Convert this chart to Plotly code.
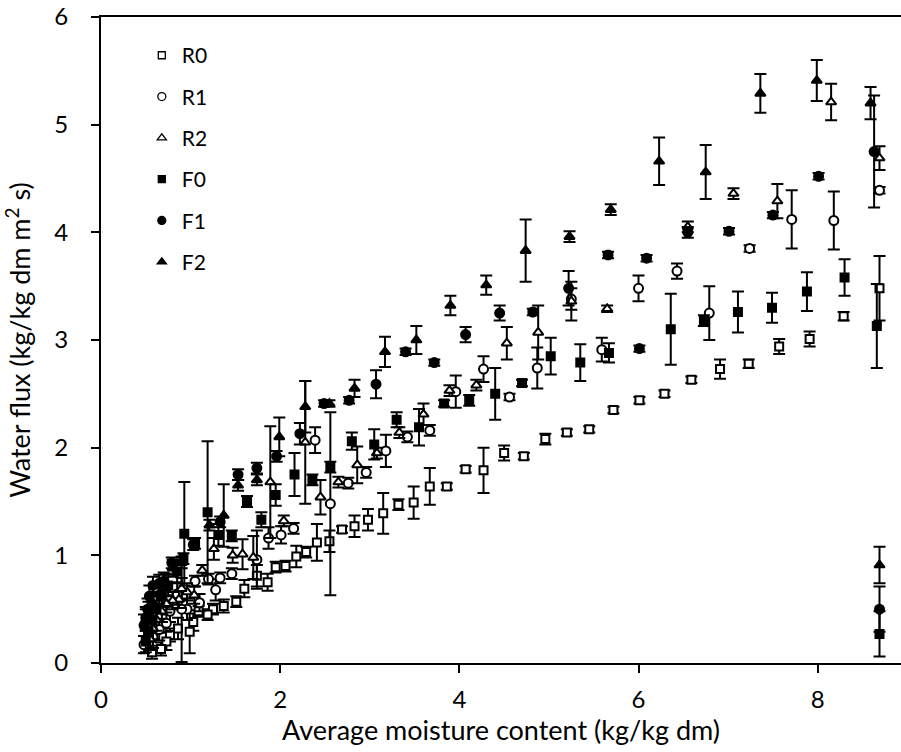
import plotly.graph_objects as go

# ---- data ----
R0_x = [8.69, 8.29, 7.91, 7.57, 7.23, 6.91, 6.59, 6.29, 6.01, 5.72, 5.45, 5.20, 4.96, 4.72, 4.50, 4.27, 4.07, 3.86, 3.67, 3.49, 3.32, 3.15, 2.98, 2.83, 2.69, 2.55, 2.41, 2.29, 2.18, 2.06, 1.95, 1.86, 1.74, 1.60, 1.51, 1.37, 1.25, 1.19, 1.09, 1.03, 0.99, 0.86, 0.77, 0.73, 0.67, 0.57]
R0_y = [3.48, 3.22, 3.01, 2.94, 2.78, 2.73, 2.63, 2.50, 2.44, 2.35, 2.17, 2.14, 2.08, 1.92, 1.95, 1.79, 1.80, 1.64, 1.64, 1.49, 1.47, 1.39, 1.33, 1.27, 1.24, 1.13, 1.12, 1.03, 0.99, 0.90, 0.89, 0.75, 0.81, 0.69, 0.57, 0.53, 0.50, 0.45, 0.48, 0.38, 0.29, 0.32, 0.26, 0.20, 0.13, 0.10]
R0_e = [0.30, 0.04, 0.07, 0.07, 0.04, 0.09, 0.03, 0.03, 0.03, 0.03, 0.03, 0.03, 0.05, 0.03, 0.07, 0.21, 0.03, 0.03, 0.17, 0.15, 0.05, 0.19, 0.10, 0.10, 0.03, 0.10, 0.17, 0.05, 0.10, 0.05, 0.05, 0.08, 0.10, 0.08, 0.05, 0.06, 0.05, 0.05, 0.05, 0.08, 0.20, 0.10, 0.06, 0.08, 0.06, 0.06]

R1_x = [8.69, 8.18, 7.71, 7.24, 6.79, 6.43, 6.00, 5.59, 5.25, 4.87, 4.56, 4.27, 3.96, 3.67, 3.42, 3.18, 2.96, 2.76, 2.56, 2.39, 2.15, 2.01, 1.87, 1.74, 1.46, 1.33, 1.28, 1.20, 1.10, 1.05, 0.96, 0.90, 0.85, 0.77, 0.73, 0.65, 0.58, 0.48]
R1_y = [4.39, 4.11, 4.12, 3.85, 3.25, 3.64, 3.48, 2.91, 3.38, 2.74, 2.47, 2.73, 2.52, 2.16, 2.10, 1.97, 1.77, 1.67, 1.48, 2.07, 1.25, 1.19, 1.16, 0.96, 0.83, 0.79, 0.68, 0.78, 0.56, 0.76, 0.50, 0.50, 0.64, 0.48, 0.37, 0.31, 0.24, 0.17]
R1_e = [0.03, 0.27, 0.27, 0.03, 0.25, 0.07, 0.12, 0.11, 0.10, 0.19, 0.03, 0.12, 0.15, 0.05, 0.05, 0.15, 0.05, 0.05, 0.85, 0.12, 0.05, 0.08, 0.10, 0.27, 0.05, 0.05, 0.10, 0.05, 0.08, 0.05, 0.10, 0.49, 0.10, 0.10, 0.08, 0.10, 0.10, 0.08]

R2_x = [8.69, 8.15, 7.55, 7.06, 6.55, 5.65, 5.25, 4.88, 4.53, 4.19, 3.89, 3.60, 3.33, 3.08, 2.86, 2.65, 2.45, 2.28, 2.04, 1.89, 1.70, 1.58, 1.47, 1.26, 1.13, 1.04, 0.96, 0.90, 0.87, 0.80, 0.73, 0.68, 0.62, 0.58, 0.55]
R2_y = [4.69, 5.21, 4.29, 4.36, 4.05, 3.29, 3.36, 3.07, 2.97, 2.58, 2.53, 2.31, 2.14, 1.95, 1.84, 1.68, 1.54, 2.05, 1.32, 1.68, 0.98, 1.01, 1.00, 1.06, 0.86, 0.63, 0.66, 0.69, 0.59, 0.58, 0.55, 0.48, 0.40, 0.32, 0.22]
R2_e = [0.11, 0.17, 0.16, 0.05, 0.05, 0.03, 0.18, 0.25, 0.15, 0.05, 0.05, 0.10, 0.05, 0.05, 0.17, 0.05, 0.16, 0.57, 0.05, 0.52, 0.20, 0.14, 0.07, 0.10, 0.05, 0.08, 0.08, 0.10, 0.08, 0.08, 0.08, 0.10, 0.10, 0.10, 0.10]

F0_x = [8.69, 8.66, 8.30, 7.88, 7.49, 7.11, 6.73, 6.36, 5.67, 5.35, 5.02, 4.70, 4.40, 4.11, 3.83, 3.55, 3.30, 3.05, 2.80, 2.56, 2.36, 2.16, 1.95, 1.79, 1.63, 1.46, 1.31, 1.19, 1.05, 0.93, 0.92, 0.85, 0.75, 0.68, 0.62, 0.57, 0.53, 0.50]
F0_y = [0.27, 3.13, 3.58, 3.45, 3.30, 3.26, 3.18, 3.10, 2.88, 2.79, 2.85, 2.60, 2.50, 2.44, 2.41, 2.19, 2.26, 2.03, 2.06, 1.82, 1.70, 1.75, 1.56, 1.33, 1.50, 1.18, 1.19, 1.40, 1.11, 1.20, 0.97, 0.85, 0.72, 0.62, 0.50, 0.40, 0.30, 0.20]
F0_e = [0.21, 0.39, 0.17, 0.18, 0.14, 0.19, 0.05, 0.33, 0.09, 0.17, 0.17, 0.03, 0.24, 0.05, 0.03, 0.17, 0.07, 0.14, 0.08, 0.05, 0.05, 0.20, 0.10, 0.07, 0.05, 0.05, 0.10, 0.66, 0.05, 0.48, 0.05, 0.10, 0.10, 0.10, 0.12, 0.10, 0.10, 0.10]

F1_x = [8.69, 8.63, 8.01, 7.50, 7.01, 6.55, 6.09, 6.01, 5.66, 5.22, 4.82, 4.45, 4.07, 3.72, 3.40, 3.07, 2.77, 2.49, 2.22, 1.96, 1.74, 1.53, 1.33, 1.03, 0.79, 0.70, 0.65, 0.58, 0.54, 0.52, 0.50, 0.48]
F1_y = [0.50, 4.75, 4.52, 4.16, 4.01, 4.00, 3.76, 2.92, 3.79, 3.48, 3.26, 3.25, 3.05, 2.79, 2.89, 2.59, 2.44, 2.41, 2.13, 1.92, 1.81, 1.75, 1.31, 1.10, 0.93, 0.76, 0.74, 0.72, 0.62, 0.50, 0.42, 0.35]
F1_e = [0.21, 0.52, 0.03, 0.03, 0.03, 0.05, 0.03, 0.03, 0.03, 0.16, 0.03, 0.07, 0.07, 0.03, 0.03, 0.13, 0.03, 0.03, 0.10, 0.05, 0.05, 0.05, 0.05, 0.05, 0.05, 0.08, 0.08, 0.08, 0.10, 0.10, 0.10, 0.10]

F2_x = [8.69, 8.59, 7.99, 7.36, 6.75, 6.23, 5.69, 5.23, 4.74, 4.30, 3.90, 3.52, 3.17, 2.83, 2.55, 2.28, 1.99, 1.74, 1.53, 1.37, 1.21, 0.90, 0.80, 0.72, 0.65, 0.58, 0.53, 0.50]
F2_y = [0.91, 5.20, 5.41, 5.29, 4.56, 4.66, 4.21, 3.96, 3.83, 3.51, 3.32, 3.00, 2.89, 2.55, 2.41, 2.38, 2.10, 1.70, 1.65, 1.37, 1.28, 0.93, 0.88, 0.75, 0.65, 0.56, 0.47, 0.40]
F2_e = [0.17, 0.15, 0.19, 0.18, 0.25, 0.22, 0.05, 0.05, 0.29, 0.09, 0.09, 0.13, 0.14, 0.08, 0.03, 0.24, 0.18, 0.05, 0.05, 0.29, 0.05, 0.05, 0.08, 0.08, 0.10, 0.10, 0.10, 0.10]

x_ticks = [0, 2, 4, 6, 8]
y_ticks = [0, 1, 2, 3, 4, 5, 6]

series = [
    ("R0", R0_x, R0_y, R0_e, "square", "white", 8),
    ("R1", R1_x, R1_y, R1_e, "circle", "white", 9),
    ("R2", R2_x, R2_y, R2_e, "triangle-up", "white", 9),
    ("F0", F0_x, F0_y, F0_e, "square", "black", 8),
    ("F1", F1_x, F1_y, F1_e, "circle", "black", 9),
    ("F2", F2_x, F2_y, F2_e, "triangle-up", "black", 9),
]

FONT = "Lato, 'Open Sans', sans-serif"

fig = go.Figure()
for name, xs, ys, es, sym, fill, size in series:
    fig.add_trace(go.Scatter(
        x=xs, y=ys, mode="markers", name=name, legendgroup=name,
        showlegend=False,
        marker=dict(symbol=sym, color=fill, size=size,
                    line=dict(color="black", width=2)),
        error_y=dict(type="data", array=es, visible=True,
                     color="black", thickness=2, width=6),
    ))
# legend entries (smaller symbols, as in the reference legend)
for name, xs, ys, es, sym, fill, size in series:
    fig.add_trace(go.Scatter(
        x=[None], y=[None], mode="markers", name=name, legendgroup=name,
        showlegend=True,
        marker=dict(symbol=sym, color=fill, size=size - 1,
                    line=dict(color="black", width=1.3)),
    ))

fig.update_layout(
    width=901, height=752,
    margin=dict(l=101, r=0, t=17, b=89),
    paper_bgcolor="white", plot_bgcolor="white",
    font=dict(family=FONT, size=24, color="black"),
    showlegend=True,
    legend=dict(x=0.051, y=0.972, xanchor="left", yanchor="top",
                bgcolor="rgba(0,0,0,0)", font=dict(size=21, family=FONT),
                traceorder="grouped", tracegroupgap=11,
                itemsizing="trace"),
    xaxis=dict(range=[0, 8.93], tickvals=x_ticks, automargin=False,
               showline=True, linecolor="black", linewidth=2, mirror=True,
               ticks="outside", ticklen=8, tickwidth=2, tickcolor="black",
               showgrid=False, zeroline=False,
               tickfont=dict(size=24), ticklabelstandoff=6,
               title=dict(text="Average moisture content (kg/kg dm)",
                          font=dict(size=27), standoff=8)),
    yaxis=dict(range=[0, 6], tickvals=y_ticks, automargin=False,
               showline=True, linecolor="black", linewidth=2, mirror=False,
               ticks="outside", ticklen=8, tickwidth=2, tickcolor="black",
               showgrid=False, zeroline=False,
               tickfont=dict(size=24), ticklabelstandoff=18,
               title=dict(text="Water flux (kg/kg dm m<sup>2</sup> s)",
                          font=dict(size=27), standoff=16)),
)

fig.write_html(
    "out.html",
    config={"displayModeBar": False},
    post_script="document.body.style.margin='0';document.body.style.overflow='hidden';",
)
